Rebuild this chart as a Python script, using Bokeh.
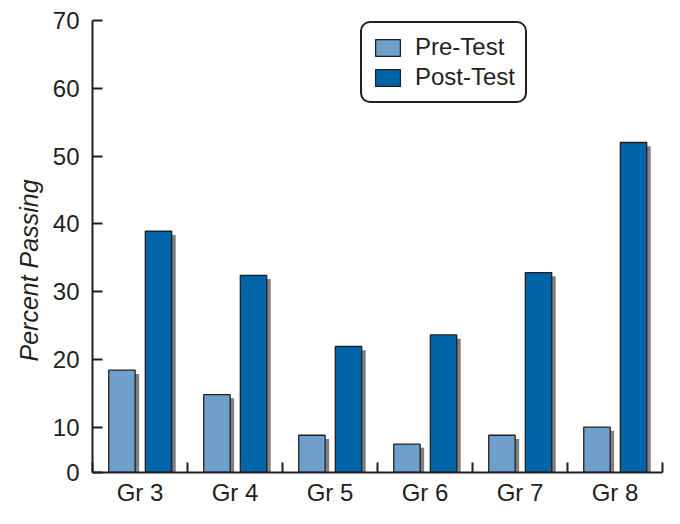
from bokeh.plotting import figure
from bokeh.models import (Range1d, FixedTicker, CustomJSTickFormatter, Legend,
                          LegendItem, Title)
from bokeh.embed import file_html
from bokeh.resources import INLINE

# ---- data ----
categories = ["Gr 3", "Gr 4", "Gr 5", "Gr 6", "Gr 7", "Gr 8"]
pre_test = [18.4, 14.8, 8.8, 7.5, 8.8, 10.0]
post_test = [38.9, 32.4, 21.9, 23.6, 32.8, 52.0]
y_ticks = [10, 20, 30, 40, 50, 60, 70]
y_base = 3.3          # value at the drawn baseline, labelled "0" in the original
series_labels = ["Pre-Test", "Post-Test"]

# ---- style ----
FONT = "Liberation Sans"
INK = "#231f20"
PRE_COLOR = "#6fa0cc"
POST_COLOR = "#0064a8"
SHADOW = "#808080"
BAR_W = 0.278
PRE_OFF = -0.19
POST_OFF = 0.195
SH_DX = 0.042
SH_DY = 0.55

n = len(categories)
centers = [i + 0.5 for i in range(n)]
pre_x = [c + PRE_OFF for c in centers]
post_x = [c + POST_OFF for c in centers]

p = figure(width=664, height=508, output_backend="svg", toolbar_location=None,
           x_range=Range1d(0, n), y_range=Range1d(y_base, 70),
           min_border_left=92, min_border_right=2, min_border_top=20,
           min_border_bottom=30)
p.xgrid.visible = False
p.ygrid.visible = False
p.outline_line_color = None
p.background_fill_color = "white"
p.border_fill_color = "white"

# shadows
p.vbar(x=[x + SH_DX for x in pre_x], top=[v - SH_DY for v in pre_test], bottom=y_base,
       width=BAR_W, fill_color=SHADOW, line_color=None)
p.vbar(x=[x + SH_DX for x in post_x], top=[v - SH_DY for v in post_test], bottom=y_base,
       width=BAR_W, fill_color=SHADOW, line_color=None)

# bars
r_pre = p.vbar(x=pre_x, top=pre_test, bottom=y_base, width=BAR_W,
               fill_color=PRE_COLOR, line_color=INK, line_width=1.3)
r_post = p.vbar(x=post_x, top=post_test, bottom=y_base, width=BAR_W,
                fill_color=POST_COLOR, line_color=INK, line_width=1.3)

# x axis: labels at centres, ticks at category boundaries
xa = p.xaxis[0]
xa.ticker = FixedTicker(ticks=centers, minor_ticks=list(range(n + 1)))
xa.major_label_overrides = {c: lab for c, lab in zip(centers, categories)}
xa.major_tick_line_color = None
xa.minor_tick_in = 10
xa.minor_tick_out = 0
xa.minor_tick_line_color = INK
xa.minor_tick_line_width = 2
xa.axis_line_color = INK
xa.axis_line_width = 2
xa.major_label_text_font = FONT
xa.major_label_text_font_size = "24px"
xa.major_label_text_color = INK
xa.major_label_standoff = 0

# y axis
ya = p.yaxis[0]
ya.ticker = FixedTicker(ticks=[y_base] + y_ticks, minor_ticks=[])
ya.formatter = CustomJSTickFormatter(args=dict(base=y_base),
                                     code="return tick <= base + 1e-6 ? '0' : tick.toFixed(0);")
ya.major_tick_in = 10
ya.major_tick_out = 0
ya.major_tick_line_color = INK
ya.major_tick_line_width = 2
ya.minor_tick_line_color = None
ya.axis_line_color = INK
ya.axis_line_width = 2
ya.major_label_text_font = FONT
ya.major_label_text_font_size = "24px"
ya.major_label_text_color = INK
ya.major_label_standoff = 13

ytitle = Title(text="Percent Passing", align="left", offset=111,
               text_font=FONT, text_font_style="italic",
               text_font_size="25px", text_color=INK, standoff=14)
p.add_layout(ytitle, "left")

legend = Legend(items=[LegendItem(label=series_labels[0], renderers=[r_pre]),
                       LegendItem(label=series_labels[1], renderers=[r_post])],
                location=(268, 369), orientation="vertical",
                border_line_color=INK, border_line_width=2, border_line_alpha=1,
                padding=10, spacing=2, margin=0,
                glyph_width=31, glyph_height=21, label_standoff=12,
                label_text_font=FONT, label_text_font_size="24px",
                label_text_color=INK, background_fill_color="white",
                background_fill_alpha=1)
try:
    legend.border_radius = 10
except Exception:
    pass
p.add_layout(legend)

open("out.html", "w").write(file_html(p, INLINE))
